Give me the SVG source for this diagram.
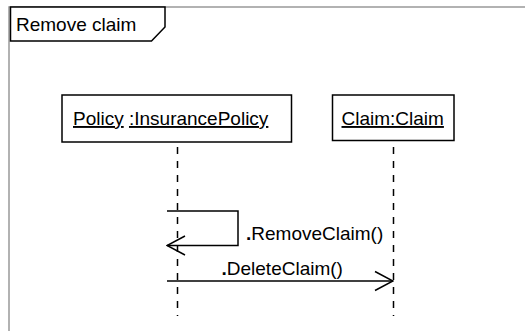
<svg xmlns="http://www.w3.org/2000/svg" width="525" height="331" viewBox="0 0 525 331">
<style>
text{font-family:"Liberation Sans",Arial,sans-serif;font-size:19px;fill:#000}
.u{text-decoration:underline}
.box{fill:#fff;stroke:#000;stroke-width:1.5}
.life{stroke:#000;stroke-width:1.5;stroke-dasharray:7 7;fill:none}
.msg{stroke:#000;stroke-width:1.5;fill:none}
</style>
<defs>
<marker id="open" viewBox="0 0 20 22" refX="19" refY="11" markerWidth="20" markerHeight="22" markerUnits="userSpaceOnUse" orient="auto">
<path d="M1,1.5 L19,11 L1,20.5" fill="none" stroke="#000" stroke-width="1.5"/>
</marker>
</defs>
<rect width="525" height="331" fill="#fff"/>
<g id="frame">
<rect x="9" y="7" width="540" height="340" fill="none" stroke="#999" stroke-width="1.5"/>
<path d="M10.5,7 H165 V27 L151.5,41 H10.5 Z" fill="#fff" stroke="#000" stroke-width="1.5"/>
<text x="16" y="31">Remove claim</text>
</g>
<g id="policy">
<rect class="box" x="62" y="95" width="229.5" height="47"/>
<text x="73" y="125"><tspan class="u">Policy</tspan> <tspan class="u">:InsurancePolicy</tspan></text>
<line class="life" x1="177.5" y1="147" x2="177.5" y2="316"/>
</g>
<g id="claim">
<rect class="box" x="332.5" y="95" width="121.5" height="45.5"/>
<text x="341.5" y="125" class="u">Claim:Claim</text>
<line class="life" x1="393.5" y1="147" x2="393.5" y2="316"/>
</g>
<g id="connectors">
<path class="msg" d="M167,211 H238 V245.5 H167" marker-end="url(#open)"/>
<text x="246" y="240"><tspan font-weight="bold">.</tspan>RemoveClaim()</text>
<path class="msg" d="M167,281 H393" marker-end="url(#open)"/>
<text x="221.5" y="275"><tspan font-weight="bold">.</tspan>DeleteClaim()</text>
</g>
</svg>
